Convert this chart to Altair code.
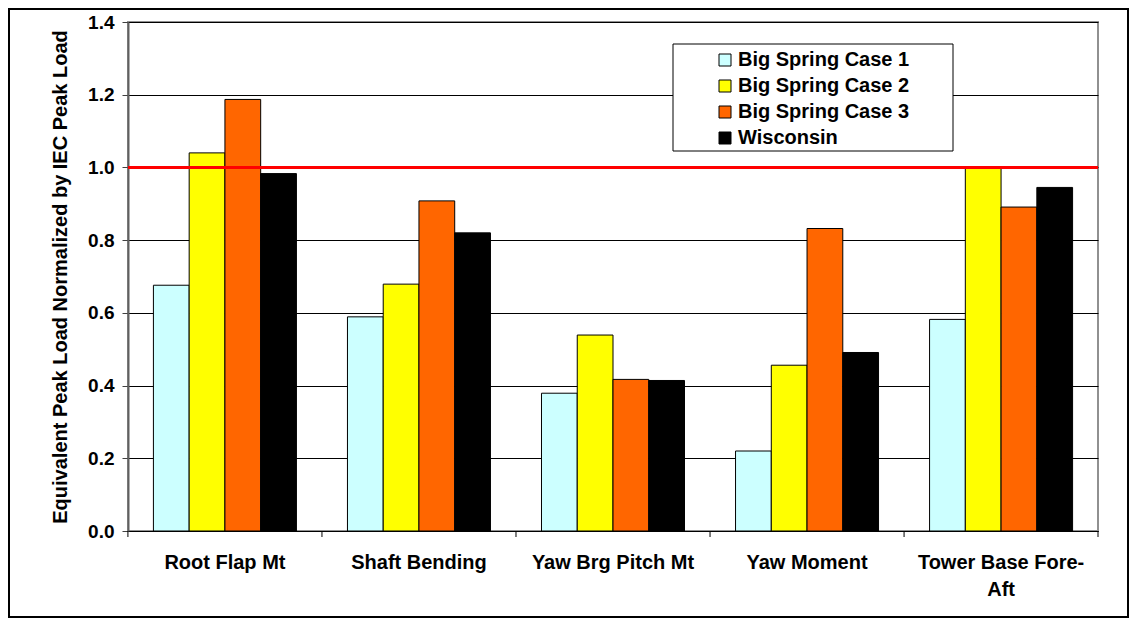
import altair as alt
import pandas as pd

categories = ["Root Flap Mt", "Shaft Bending", "Yaw Brg Pitch Mt", "Yaw Moment", "Tower Base Fore-Aft"]
category_labels = ["Root Flap Mt", "Shaft Bending", "Yaw Brg Pitch Mt", "Yaw Moment", "Tower Base Fore-\nAft"]
series = ["Big Spring Case 1", "Big Spring Case 2", "Big Spring Case 3", "Wisconsin"]
case1 = [0.676, 0.589, 0.379, 0.220, 0.582]
case2 = [1.040, 0.679, 0.539, 0.456, 1.000]
case3 = [1.187, 0.908, 0.417, 0.832, 0.891]
wisconsin = [0.983, 0.820, 0.414, 0.491, 0.945]
colors = ["#CCFFFF", "#FFFF00", "#FF6600", "#000000"]
y_ticks = [0.0, 0.2, 0.4, 0.6, 0.8, 1.0, 1.2, 1.4]
iec_limit = 1.0

rows = []
for s, vals in zip(series, [case1, case2, case3, wisconsin]):
    for c, v in zip(categories, vals):
        rows.append({"category": c, "series": s, "value": v})
df = pd.DataFrame(rows)

W, H = 970, 509
FONT = "Liberation Sans"

x_scale = alt.Scale(domain=categories, paddingInner=0.263, paddingOuter=0.131)

bars = alt.Chart(df).mark_bar(stroke="black", strokeWidth=1, opacity=1).encode(
    x=alt.X("category:N", sort=categories, scale=x_scale, title=None,
            axis=alt.Axis(labels=False, ticks=False, domain=True, domainColor="black",
                          domainWidth=1)),
    xOffset=alt.XOffset("series:N", sort=series, scale=alt.Scale(domain=series, paddingInner=0, paddingOuter=0)),
    y=alt.Y("value:Q", scale=alt.Scale(domain=[0, 1.4], nice=False),
            title="Equivalent Peak Load Normalized by IEC Peak Load",
            axis=alt.Axis(values=y_ticks, format=".1f", grid=True, gridColor="black",
                          gridOpacity=1, gridWidth=1, tickSize=6, tickColor="#404040",
                          domainColor="#606060", domainWidth=2, labelFont=FONT,
                          labelFontSize=19, labelFontWeight="bold", labelColor="black",
                          labelPadding=8, titleFont=FONT, titleFontSize=20,
                          titleFontWeight="bold", titleColor="black", titlePadding=17)),
    color=alt.Color("series:N", sort=series,
                    scale=alt.Scale(domain=series, range=colors),
                    legend=alt.Legend(orient="none", legendX=587, legendY=28, title=None,
                                      symbolType="square", symbolSize=144,
                                      symbolStrokeColor="black", symbolStrokeWidth=1,
                                      symbolOpacity=1, labelFont=FONT, labelFontSize=20,
                                      labelFontWeight="bold", labelColor="black",
                                      labelOffset=3, rowPadding=6, padding=0,
                                      labelLimit=0)),
)

label_df = pd.DataFrame({"category": categories, "label": category_labels})
xlabels = alt.Chart(label_df).mark_text(
    font=FONT, fontSize=20, fontWeight="bold", color="black", baseline="top",
    align="center", lineBreak="\n", lineHeight=27,
).encode(
    x=alt.X("category:N", sort=categories, scale=x_scale),
    y=alt.value(H + 22),
    text="label:N",
)

xticks = alt.Chart(label_df).mark_rule(color="black", strokeWidth=1, xOffset=-25.5).encode(
    x=alt.X("category:N", sort=categories, scale=x_scale, bandPosition=0),
    y=alt.value(H), y2=alt.value(H + 6),
)
end_tick = alt.Chart(label_df.head(1)).mark_rule(color="black", strokeWidth=1).encode(
    x=alt.value(W), y=alt.value(H), y2=alt.value(H + 6),
)

red = alt.Chart(pd.DataFrame({"limit": [iec_limit]})).mark_rule(color="#FF0000", strokeWidth=3).encode(
    y=alt.Y("limit:Q")
)

legend_box = alt.Chart(label_df.head(1)).mark_rect(fill="white", stroke="black", strokeWidth=1).encode(
    x=alt.value(545), x2=alt.value(825), y=alt.value(22), y2=alt.value(129),
)

frame = alt.Chart(label_df.head(1)).mark_rect(fill=None, stroke="black", strokeWidth=2).encode(
    x=alt.value(-119), x2=alt.value(1000), y=alt.value(-13), y2=alt.value(595),
)

chart = alt.layer(bars, xlabels, xticks, end_tick, red, legend_box, frame).properties(
    width=W, height=H,
    padding={"left": 120, "top": 14, "right": 31, "bottom": 87},
    autosize=alt.AutoSizeParams(type="none"),
    background="white",
).configure_view(stroke="#909090", strokeWidth=2)

chart.save("out.html", embed_options={"renderer": "svg", "actions": False})
